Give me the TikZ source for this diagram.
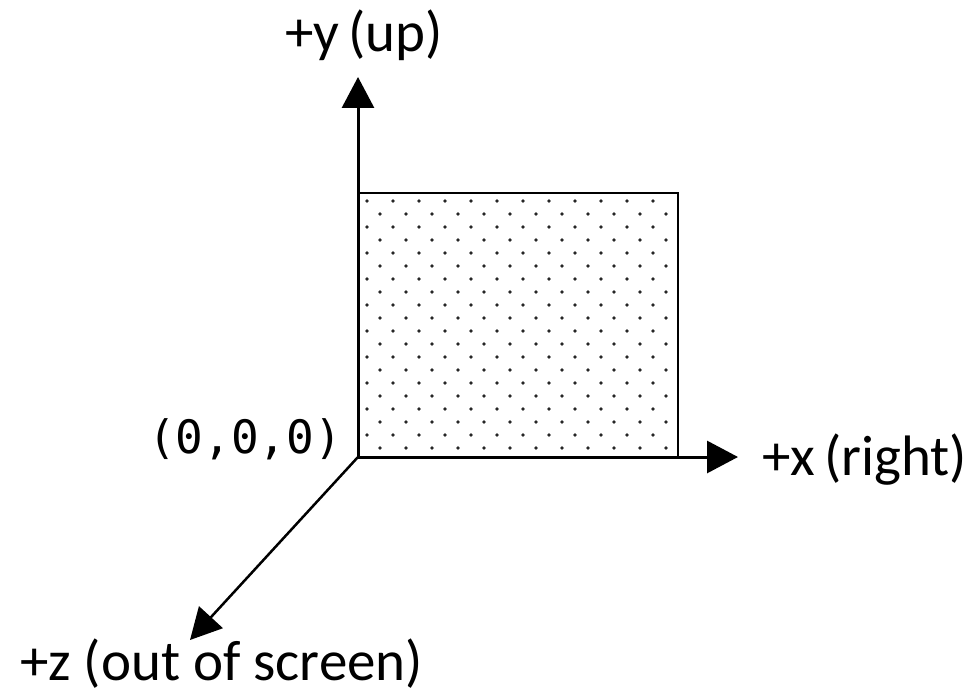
\documentclass[tikz,border=0pt]{standalone}
\usepackage{fontspec}
\setmainfont{Carlito}
\newfontfamily\monofnt{DejaVu Sans Mono}
\usetikzlibrary{arrows.meta}
\tikzset{
  axis/.style={line width=3pt,-{Triangle[length=31pt,width=32pt]}},
  lbl/.style={anchor=base west,inner sep=0pt,font=\fontsize{57}{62}\selectfont},
  box/.style={draw,line width=2.5pt},
  dotmark/.style={fill=black!85}
}
\begin{document}
\begin{tikzpicture}[x=1pt,y=-1pt]
\useasboundingbox (0,0) rectangle (979,695);
\coordinate (o) at (358,457);
\coordinate (ytip) at (358,77);
\coordinate (xtip) at (738,457);
\coordinate (ztip) at (190,640);
% dots
\foreach \j in {0,...,19}{
  \pgfmathsetmacro{\yy}{201+13*\j}
  \ifodd\j
    \foreach \k in {0,...,11}{\fill[dotmark] ({380+26*\k},\yy) circle (1.8);}
  \else
    \foreach \k in {0,...,11}{\fill[dotmark] ({367+26*\k},\yy) circle (1.8);}
  \fi
}
\draw[box] (358,193) rectangle (678,457);
\draw[axis] (o) -- (ytip);
\draw[axis] (o) -- (xtip);
\draw[line width=2.5pt,-{Triangle[length=31pt,width=32pt]}] (o) -- (ztip);
\node[lbl] (ly) at (285,52) {+y\hspace{-4pt} (up)};
\node[lbl] (lx) at (762,475) {+x\hspace{-4pt} (right)};
\node[lbl] (lz) at (20,680) {+z (out of screen)};
\node[anchor=base west,inner sep=0pt,font=\monofnt\fontsize{46}{50}\selectfont] (lo) at (148,453) {(0,0,0)};
\end{tikzpicture}
\end{document}
